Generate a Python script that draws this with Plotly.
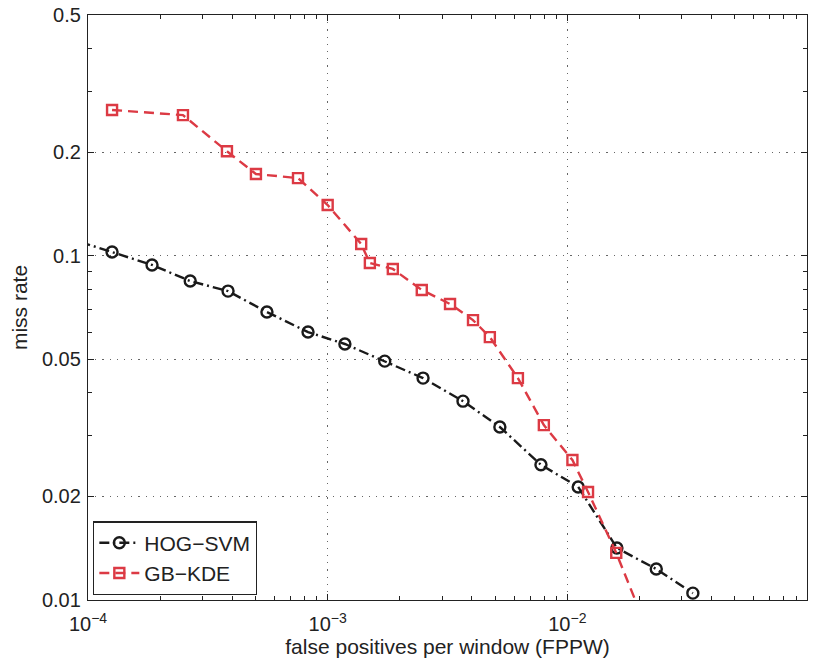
import plotly.graph_objects as go

# HOG-SVM (black, dash-dot, circles)
hog_fppw = [9.3e-5, 1.26e-4, 1.85e-4, 2.67e-4, 3.84e-4, 5.58e-4, 8.28e-4, 1.18e-3, 1.73e-3,
            2.50e-3, 3.67e-3, 5.23e-3, 7.76e-3, 1.11e-2, 1.61e-2, 2.35e-2, 3.34e-2]
hog_miss = [0.1096, 0.1025, 0.094, 0.0844, 0.0789, 0.0686, 0.060, 0.0554, 0.0494,
            0.0441, 0.0378, 0.0318, 0.0247, 0.0213, 0.01416, 0.0123, 0.01047]

# GB-KDE (red, dashed, squares)
gb_fppw = [1.26e-4, 2.49e-4, 3.80e-4, 5.02e-4, 7.52e-4, 1.0e-3, 1.38e-3, 1.50e-3, 1.87e-3,
           2.47e-3, 3.24e-3, 4.04e-3, 4.75e-3, 6.22e-3, 7.98e-3, 1.05e-2, 1.22e-2, 1.60e-2, 2.25e-2]
gb_miss = [0.265, 0.256, 0.201, 0.1726, 0.168, 0.1403, 0.1081, 0.0952, 0.0915,
           0.0795, 0.0724, 0.065, 0.058, 0.0441, 0.0322, 0.0255, 0.0206, 0.0137, 0.0076]

x_tickvals = [1e-4, 1e-3, 1e-2, 1e-1]
x_ticktext = ["10<sup>−4</sup>", "10<sup>−3</sup>", "10<sup>−2</sup>", "10<sup>−1</sup>"]
y_tickvals = [0.01, 0.02, 0.05, 0.1, 0.2, 0.5]
y_ticktext = ["0.01", "0.02", "0.05", "0.1", "0.2", "0.5"]

x_minor = [m * 10 ** e for e in (-4, -3, -2) for m in range(2, 10)]
y_minor = [0.03, 0.04, 0.06, 0.07, 0.08, 0.09, 0.3, 0.4]

RED = "#dc3a44"
FONT = "Liberation Sans, Arial, sans-serif"

fig = go.Figure()
fig.add_trace(go.Scatter(
    x=hog_fppw, y=hog_miss, name="HOG−SVM", mode="lines+markers",
    line=dict(color="#1a1a1a", width=2.4, dash="10px,4px,2px,4px"),
    marker=dict(symbol="circle-open", size=11, color="#1a1a1a", line=dict(width=2.4)),
))
fig.add_trace(go.Scatter(
    x=gb_fppw, y=gb_miss, name="GB−KDE", mode="lines+markers",
    line=dict(color=RED, width=2.4, dash="10px,6px"),
    marker=dict(symbol="square-open", size=10, color=RED, line=dict(width=2.4)),
))

axis_common = dict(
    showline=True, linecolor="#222", linewidth=1.3, mirror="allticks",
    ticks="inside", ticklen=6, tickcolor="#222", automargin=False,
    showgrid=True, gridcolor="#666", griddash="1.2px,6px", gridwidth=1.2,
    zeroline=False, tickfont=dict(family=FONT, size=20, color="#222"),
)

fig.update_xaxes(
    type="log", range=[-4, -1], tickmode="array",
    tickvals=x_tickvals, ticktext=x_ticktext, ticklabelstandoff=6,
    minor=dict(tickmode="array", tickvals=x_minor, ticks="inside", ticklen=4,
               tickcolor="#222", showgrid=False),
    title=dict(text="false positives per window (FPPW)", font=dict(family=FONT, size=21, color="#222"),
               standoff=4),
    **axis_common,
)
fig.update_yaxes(
    type="log", range=[-2, -0.30103], tickmode="array",
    tickvals=y_tickvals, ticktext=y_ticktext, ticklabelstandoff=2,
    minor=dict(tickmode="array", tickvals=y_minor, ticks="inside", ticklen=4,
               tickcolor="#222", showgrid=False),
    title=dict(text="miss rate", font=dict(family=FONT, size=21, color="#222"), standoff=8),
    **axis_common,
)

fig.update_layout(
    width=826, height=661,
    margin=dict(l=88, r=19, t=15, b=61),
    paper_bgcolor="white", plot_bgcolor="white",
    font=dict(family=FONT, size=20, color="#222"),
    showlegend=True,
    legend=dict(
        x=0.007, y=0.008, xanchor="left", yanchor="bottom",
        bgcolor="white", bordercolor="#222", borderwidth=1.3,
        font=dict(family=FONT, size=21, color="#222"),
        tracegroupgap=0, itemwidth=40,
    ),
)

fig.write_html("out.html")
